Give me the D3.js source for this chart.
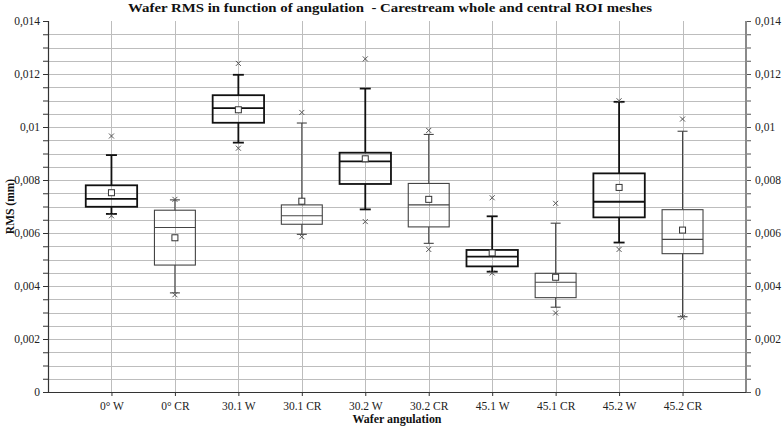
<!DOCTYPE html>
<html>
<head>
<meta charset="utf-8">
<script src="https://cdn.jsdelivr.net/npm/d3@7/dist/d3.min.js"></script>
<style>
  html, body { margin: 0; padding: 0; background: #fff; }
  svg { display: block; font-family: "Liberation Serif", "DejaVu Serif", serif; }
</style>
</head>
<body>
<svg id="chart" width="782" height="427"></svg>
<script>
// ---- data (values in mm) ----
const categories   = ["0° W", "0° CR", "30.1 W", "30.1 CR", "30.2 W", "30.2 CR", "45.1 W", "45.1 CR", "45.2 W", "45.2 CR"];
const outlierHigh  = [0.00966, 0.00727, 0.01240, 0.01055, 0.01257, 0.00987, 0.00733, 0.00712, 0.01099, 0.01030];
const whiskerHigh  = [0.00894, 0.00725, 0.01197, 0.01015, 0.01145, 0.00972, 0.00663, 0.00637, 0.01095, 0.00984];
const q3Values     = [0.00780, 0.00686, 0.01120, 0.00706, 0.00903, 0.00787, 0.00536, 0.00448, 0.00825, 0.00688];
const medianValues = [0.00729, 0.00621, 0.01071, 0.00665, 0.00870, 0.00706, 0.00511, 0.00414, 0.00718, 0.00576];
const meanValues   = [0.00752, 0.00582, 0.01065, 0.00720, 0.00880, 0.00727, 0.00525, 0.00433, 0.00772, 0.00611];
const q1Values     = [0.00699, 0.00479, 0.01016, 0.00633, 0.00785, 0.00623, 0.00474, 0.00356, 0.00659, 0.00522];
const whiskerLow   = [0.00672, 0.00374, 0.00941, 0.00595, 0.00689, 0.00561, 0.00454, 0.00320, 0.00564, 0.00284];
const outlierLow   = [0.00665, 0.00367, 0.00920, 0.00586, 0.00643, 0.00538, 0.00449, 0.00298, 0.00538, 0.00282];
const majorTicks   = [0, 0.002, 0.004, 0.006, 0.008, 0.01, 0.012, 0.014];

const title  = "Wafer RMS in function of angulation  - Carestream whole and central ROI meshes";
const xTitle = "Wafer angulation";
const yTitle = "RMS (mm)";

// ---- layout ----
const W = 782, H = 427;
const m = { left: 48, right: 36, top: 21, bottom: 35 };
const svg = d3.select("#chart");

const x = d3.scaleLinear().domain([0, categories.length + 1]).range([m.left, W - m.right]);
const y = d3.scaleLinear().domain([0, 0.014]).range([H - m.bottom, m.top]);
const band = x(1) - x(0);

const minorTicks = d3.range(0, 28 + 1).map(i => +(i * 0.0005).toFixed(4));
const fmt = d => d === 0 ? "0" : String(+d.toFixed(4)).replace(".", ",");

// horizontal grid
svg.append("g").selectAll("line")
  .data(minorTicks.filter(v => v > 0 && v < 0.014))
  .join("line")
  .attr("x1", m.left).attr("x2", W - m.right)
  .attr("y1", d => Math.round(y(d)) + 0.5).attr("y2", d => Math.round(y(d)) + 0.5)
  .attr("stroke", "#bdbdbd").attr("stroke-width", 1);

// vertical grid at categories
svg.append("g").selectAll("line")
  .data(categories)
  .join("line")
  .attr("x1", (d, i) => Math.round(x(i + 1)) + 0.5).attr("x2", (d, i) => Math.round(x(i + 1)) + 0.5)
  .attr("y1", y(0.014)).attr("y2", y(0))
  .attr("stroke", "#bdbdbd").attr("stroke-width", 1);

// axes
const leftMinor = svg.append("g").attr("transform", `translate(${m.left},0)`)
  .call(d3.axisLeft(y).tickValues(minorTicks).tickSize(5).tickFormat(""));
const leftMajor = svg.append("g").attr("transform", `translate(${m.left},0)`)
  .call(d3.axisLeft(y).tickValues(majorTicks).tickSize(5).tickPadding(3).tickFormat(fmt));
const rightMinor = svg.append("g").attr("transform", `translate(${W - m.right},0)`)
  .call(d3.axisRight(y).tickValues(minorTicks).tickSize(5).tickFormat(""));
const rightMajor = svg.append("g").attr("transform", `translate(${W - m.right},0)`)
  .call(d3.axisRight(y).tickValues(majorTicks).tickSize(5).tickPadding(4).tickFormat(fmt));
const bottom = svg.append("g").attr("transform", `translate(0,${H - m.bottom})`)
  .call(d3.axisBottom(x).tickValues(categories.map((c, i) => i + 1)).tickSize(4).tickPadding(6)
    .tickFormat((d) => categories[d - 1]));

[leftMinor, leftMajor, rightMinor, rightMajor, bottom].forEach(g => {
  g.selectAll("text").attr("font-family", "Liberation Serif, serif").attr("font-size", 11.5).attr("fill", "#222");
  g.selectAll("line").attr("stroke", "#333");
  g.select(".domain").remove();
});
rightMinor.selectAll("line").attr("stroke", "#555");
rightMajor.selectAll("line").attr("stroke", "#555");

// axis lines
svg.append("line").attr("x1", m.left + 0.5).attr("x2", m.left + 0.5).attr("y1", y(0.014)).attr("y2", y(0))
  .attr("stroke", "#333").attr("stroke-width", 1.2);
svg.append("line").attr("x1", W - m.right).attr("x2", W - m.right).attr("y1", y(0.014)).attr("y2", y(0))
  .attr("stroke", "#8a8a8a").attr("stroke-width", 2);
svg.append("line").attr("x1", m.left).attr("x2", W - m.right).attr("y1", y(0) + 0.5).attr("y2", y(0) + 0.5)
  .attr("stroke", "#333").attr("stroke-width", 1.2);

// boxes
const boxes = svg.append("g");
categories.forEach((c, i) => {
  const isW = / W$/.test(c);
  const cx = x(i + 1);
  const bw = band * (isW ? 0.81 : 0.645);
  const capW = isW ? 11 : 10;
  const col = isW ? "#111" : "#444";
  const sw = isW ? 1.8 : 1.1;
  const g = boxes.append("g");
  // whiskers
  g.append("line").attr("x1", cx).attr("x2", cx).attr("y1", y(whiskerHigh[i])).attr("y2", y(q3Values[i]))
    .attr("stroke", col).attr("stroke-width", sw);
  g.append("line").attr("x1", cx).attr("x2", cx).attr("y1", y(q1Values[i])).attr("y2", y(whiskerLow[i]))
    .attr("stroke", col).attr("stroke-width", sw);
  [whiskerHigh[i], whiskerLow[i]].forEach(v => {
    g.append("line").attr("x1", cx - capW / 2).attr("x2", cx + capW / 2).attr("y1", y(v)).attr("y2", y(v))
      .attr("stroke", col).attr("stroke-width", sw);
  });
  // box
  g.append("rect").attr("x", cx - bw / 2).attr("width", bw)
    .attr("y", y(q3Values[i])).attr("height", y(q1Values[i]) - y(q3Values[i]))
    .attr("fill", "none").attr("stroke", col).attr("stroke-width", sw);
  g.append("line").attr("x1", cx - bw / 2).attr("x2", cx + bw / 2)
    .attr("y1", y(medianValues[i])).attr("y2", y(medianValues[i]))
    .attr("stroke", col).attr("stroke-width", sw);
  // mean
  g.append("rect").attr("x", cx - 3).attr("y", y(meanValues[i]) - 3).attr("width", 6).attr("height", 6)
    .attr("fill", "#fff").attr("stroke", "#333").attr("stroke-width", 1);
  // outliers
  [outlierHigh[i], outlierLow[i]].forEach(v => {
    const oy = y(v), s = 2.5;
    g.append("path").attr("d", `M${cx - s},${oy - s}L${cx + s},${oy + s}M${cx - s},${oy + s}L${cx + s},${oy - s}`)
      .attr("stroke", "#555").attr("stroke-width", 1).attr("fill", "none");
  });
});

// titles
svg.append("text").attr("x", 390).attr("y", 12).attr("text-anchor", "middle")
  .style("white-space", "pre").attr("xml:space", "preserve")
  .attr("textLength", 524).attr("lengthAdjust", "spacingAndGlyphs")
  .attr("font-family", "Liberation Serif, serif").attr("font-weight", "bold").attr("font-size", 12.5)
  .attr("fill", "#111").text(title);
svg.append("text").attr("x", (m.left + W - m.right) / 2).attr("y", 423).attr("text-anchor", "middle")
  .attr("textLength", 89).attr("lengthAdjust", "spacingAndGlyphs")
  .attr("font-family", "Liberation Serif, serif").attr("font-weight", "bold").attr("font-size", 12)
  .attr("fill", "#111").text(xTitle);
svg.append("text").attr("transform", `translate(14,${(y(0) + y(0.014)) / 2}) rotate(-90)`)
  .attr("text-anchor", "middle")
  .attr("font-family", "Liberation Serif, serif").attr("font-weight", "bold").attr("font-size", 11.5)
  .attr("fill", "#111").text(yTitle);
</script>
</body>
</html>
